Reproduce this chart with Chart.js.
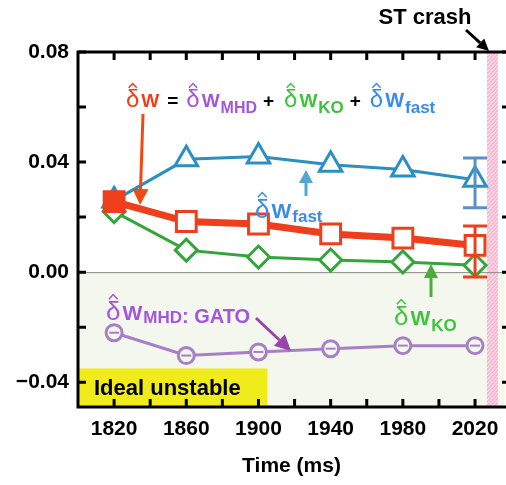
<!DOCTYPE html>
<html>
<head>
<meta charset="utf-8">
<script src="https://cdn.jsdelivr.net/npm/chart.js@4.4.1/dist/chart.umd.min.js"></script>
<style>html,body{margin:0;padding:0;background:#fff}</style>
</head>
<body>
<canvas id="c" width="506" height="485"></canvas>
<script>
// time points (ms)
const times = [1820, 1860, 1900, 1940, 1980, 2020];
// normalized delta W terms
const dwTotal = [0.0256, 0.0184, 0.0175, 0.0139, 0.0124, 0.0097];
const dwFast  = [0.026, 0.041, 0.042, 0.039, 0.0373, 0.0336];
const dwKO    = [0.022, 0.008, 0.0055, 0.0044, 0.0037, 0.0025];
const dwMHD   = [-0.022, -0.0303, -0.029, -0.0278, -0.0267, -0.0267];
// error bars on the last point [low, high]
const fastErr  = [0.0234, 0.0415];
const totalErr = [-0.0018, 0.0168];
// axis ranges / marked regions
const xRange = [1800, 2036.6];
const yRange = [-0.049, 0.08];
const crashBand = [2026.6, 2032.7];
const unstableBox = { x: [1800, 1905], y: [-0.049, -0.035] };

const FONT = "'Liberation Sans', Arial, sans-serif";

const RED = '#ef3e1b', BLUE = '#2a8fc2', GREEN = '#33a63a', PURPLE = '#a77fc6';

function pts(ys) {
    return times.map((t, i) => ({ x: t, y: ys[i] }));
}

// draws  δ^W_sub  and returns the x where it ends
function hatTerm(ctx, x, y, color, dSize, wSize, sub, subSize, subDrop) {
    ctx.fillStyle = color;
    ctx.strokeStyle = color;
    ctx.textBaseline = 'alphabetic';
    ctx.textAlign = 'left';
    ctx.font = dSize + 'px ' + FONT;
    ctx.fillText('δ', x, y);
    const dw = ctx.measureText('δ').width;
    const cx = x + dw / 2;
    ctx.lineWidth = 1.5;
    ctx.beginPath();
    ctx.moveTo(cx - dSize * 0.17, y - dSize * 0.8);
    ctx.lineTo(cx, y - dSize * 0.98);
    ctx.lineTo(cx + dSize * 0.17, y - dSize * 0.8);
    ctx.stroke();
    let px = x + dw + 2;
    ctx.font = 'bold ' + wSize + 'px ' + FONT;
    ctx.fillText('W', px, y);
    px += ctx.measureText('W').width + 1;
    if (sub) {
        ctx.font = 'bold ' + subSize + 'px ' + FONT;
        ctx.fillText(sub, px, y + subDrop);
        px += ctx.measureText(sub).width;
    }
    return px;
}

function arrow(ctx, x1, y1, x2, y2, color, lw, head, hw) {
    const a = Math.atan2(y2 - y1, x2 - x1);
    const bx = x2 - Math.cos(a) * head, by = y2 - Math.sin(a) * head;
    ctx.strokeStyle = color;
    ctx.fillStyle = color;
    ctx.lineWidth = lw;
    ctx.beginPath();
    ctx.moveTo(x1, y1);
    ctx.lineTo(bx, by);
    ctx.stroke();
    ctx.beginPath();
    ctx.moveTo(x2, y2);
    ctx.lineTo(bx + Math.sin(a) * hw, by - Math.cos(a) * hw);
    ctx.lineTo(bx - Math.sin(a) * hw, by + Math.cos(a) * hw);
    ctx.closePath();
    ctx.fill();
}

const backdrop = {
    id: 'backdrop',
    beforeDatasetsDraw(chart) {
        const { ctx, chartArea: a, scales: { x, y } } = chart;
        const y0 = y.getPixelForValue(0);
        ctx.save();
        ctx.fillStyle = '#f4f7ed';
        ctx.fillRect(a.left, y0, a.right - a.left, a.bottom - y0);

        // ideal unstable box
        const bx1 = x.getPixelForValue(unstableBox.x[0]), bx2 = x.getPixelForValue(unstableBox.x[1]);
        const by1 = y.getPixelForValue(unstableBox.y[1]), by2 = y.getPixelForValue(unstableBox.y[0]);
        ctx.fillStyle = '#f0ec1c';
        ctx.fillRect(bx1, by1, bx2 - bx1, by2 - by1);
        ctx.fillStyle = '#000';
        ctx.font = 'bold 22px ' + FONT;
        ctx.textBaseline = 'middle';
        ctx.fillText('Ideal unstable', bx1 + 16, (by1 + by2) / 2 + 1);

        // ST crash band (hatched pink)
        const cx1 = x.getPixelForValue(crashBand[0]), cx2 = x.getPixelForValue(crashBand[1]);
        ctx.fillStyle = '#f7bad3';
        ctx.fillRect(cx1, a.top, cx2 - cx1, a.bottom - a.top);
        ctx.beginPath();
        ctx.rect(cx1, a.top, cx2 - cx1, a.bottom - a.top);
        ctx.clip();
        ctx.strokeStyle = 'rgba(255,255,255,0.7)';
        ctx.lineWidth = 1;
        for (let k = a.top - 20; k < a.bottom + 20; k += 4) {
            ctx.beginPath();
            ctx.moveTo(cx1, k + 12);
            ctx.lineTo(cx2, k);
            ctx.stroke();
        }
        ctx.restore();

        ctx.save();
        ctx.strokeStyle = '#8a8a8a';
        ctx.lineWidth = 1;
        ctx.beginPath();
        ctx.moveTo(a.left, y0 + 0.5);
        ctx.lineTo(a.right, y0 + 0.5);
        ctx.stroke();
        ctx.restore();
    },
    afterDatasetsDraw(chart) {
        const { ctx, chartArea: a, scales: { x, y } } = chart;
        ctx.save();

        // error bars at the last time
        const ex = x.getPixelForValue(times[times.length - 1]);
        [[fastErr, '#5d8fc6'], [totalErr, RED]].forEach(([e, col]) => {
            const t = y.getPixelForValue(e[1]), b = y.getPixelForValue(e[0]);
            ctx.strokeStyle = col;
            ctx.lineWidth = 3;
            ctx.beginPath();
            ctx.moveTo(ex, t); ctx.lineTo(ex, b);
            ctx.moveTo(ex - 12, t); ctx.lineTo(ex + 12, t);
            ctx.moveTo(ex - 12, b); ctx.lineTo(ex + 12, b);
            ctx.stroke();
        });

        // frame
        ctx.strokeStyle = '#000';
        ctx.lineWidth = 3;
        ctx.beginPath();
        ctx.moveTo(a.right + 2, a.top);
        ctx.lineTo(a.left, a.top);
        ctx.lineTo(a.left, a.bottom);
        ctx.lineTo(a.right + 2, a.bottom);
        ctx.stroke();

        // inward ticks
        ctx.lineWidth = 3;
        ctx.beginPath();
        x.ticks.forEach(tk => {
            const px = x.getPixelForValue(tk.value);
            if (px <= a.left + 2) return;
            ctx.moveTo(px, a.top); ctx.lineTo(px, a.top + 8);
            ctx.moveTo(px, a.bottom); ctx.lineTo(px, a.bottom - 8);
        });
        y.ticks.forEach(tk => {
            const py = y.getPixelForValue(tk.value);
            ctx.moveTo(a.left, py); ctx.lineTo(a.left + 8, py);
            ctx.moveTo(a.right - 3, py); ctx.lineTo(a.right + 2, py);
        });
        ctx.stroke();

        // formula
        let px = hatTerm(ctx, 126, 107, RED, 24, 19, null);
        ctx.fillStyle = '#000';
        ctx.font = 'bold 19px ' + FONT;
        ctx.fillText('=', px + 7, 107);
        px = hatTerm(ctx, px + 26, 107, '#a355e0', 24, 19, 'MHD', 16, 6);
        ctx.fillStyle = '#000';
        ctx.font = 'bold 19px ' + FONT;
        ctx.fillText('+', px + 6, 107);
        px = hatTerm(ctx, px + 27, 107, '#3fc23f', 24, 19, 'KO', 17, 6);
        ctx.fillStyle = '#000';
        ctx.font = 'bold 19px ' + FONT;
        ctx.fillText('+', px + 6, 107);
        hatTerm(ctx, px + 26, 107, '#3a8ce8', 24, 20, 'fast', 17, 6);

        // labels next to curves
        hatTerm(ctx, 255, 218, '#3a8ce8', 26, 21, 'fast', 17, 4);
        hatTerm(ctx, 394, 325, '#3fc23f', 26, 21, 'KO', 17, 6);
        px = hatTerm(ctx, 106, 320, '#a355e0', 26, 21, 'MHD', 17, 3);
        ctx.font = 'bold 20px ' + FONT;
        ctx.fillText(': GATO', px, 323);

        // arrows
        arrow(ctx, 143, 114, 140, 205, '#f04a12', 3, 16, 8);
        arrow(ctx, 306, 196, 306, 170, '#4fa8d0', 3, 13, 7);
        arrow(ctx, 431, 297, 431, 264, '#4aac3a', 3, 14, 7);
        arrow(ctx, 256, 318, 291, 351, '#9944aa', 3, 16, 8);
        arrow(ctx, 466, 30, 489, 51, '#000', 3, 12, 6);

        ctx.fillStyle = '#000';
        ctx.font = 'bold 22px ' + FONT;
        ctx.textBaseline = 'middle';
        ctx.textAlign = 'center';
        ctx.fillText('ST crash', 425, 18);
        ctx.restore();
    }
};

const markerFill = '#ffffff';

new Chart(document.getElementById('c'), {
    type: 'line',
    data: {
        // first dataset is painted on top
        datasets: [
            {
                label: 'dW total',
                data: pts(dwTotal),
                borderColor: RED, borderWidth: 7,
                pointStyle: 'rect', pointRadius: 14,
                pointBorderWidth: 3,
                pointBackgroundColor: times.map((t, i) => i === 0 ? RED : markerFill),
                pointBorderColor: RED
            },
            {
                label: 'dW fast',
                data: pts(dwFast),
                borderColor: BLUE, borderWidth: 3,
                pointStyle: 'triangle', pointRadius: 13,
                pointBorderWidth: 3, pointBackgroundColor: markerFill, pointBorderColor: BLUE
            },
            {
                label: 'dW KO',
                data: pts(dwKO),
                borderColor: GREEN, borderWidth: 3,
                pointStyle: 'rectRot', pointRadius: 11,
                pointBorderWidth: 3, pointBackgroundColor: markerFill, pointBorderColor: GREEN
            },
            {
                label: 'mhd dash',
                data: pts(dwMHD),
                showLine: false,
                pointStyle: 'line', pointRadius: 5,
                pointBorderWidth: 2, pointBorderColor: PURPLE
            },
            {
                label: 'dW MHD (GATO)',
                data: pts(dwMHD),
                borderColor: PURPLE, borderWidth: 3,
                pointStyle: 'circle', pointRadius: 8,
                pointBorderWidth: 3, pointBackgroundColor: '#f4f7ed', pointBorderColor: PURPLE
            }
        ]
    },
    options: {
        responsive: false,
        animation: false,
        clip: false,
        layout: { autoPadding: false, padding: { top: 52, right: 1, left: 0, bottom: 0 } },
        plugins: { legend: { display: false }, tooltip: { enabled: false } },
        scales: {
            x: {
                type: 'linear',
                min: xRange[0], max: xRange[1],
                afterFit(s) { s.height = 78; s.paddingLeft = 0; s.paddingRight = 0; },
                grid: { display: false, drawTicks: false },
                border: { display: false },
                ticks: {
                    stepSize: 20, includeBounds: false, padding: 10,
                    autoSkip: false, maxRotation: 0,
                    color: '#000',
                    font: { family: FONT, size: 21, weight: 'bold' },
                    callback: v => (v % 40 === 20 ? String(v) : '')
                },
                title: {
                    display: true, text: 'Time (ms)', color: '#000',
                    font: { family: FONT, size: 21, weight: 'bold' },
                    padding: { top: 0, bottom: 6 }
                }
            },
            y: {
                min: yRange[0], max: yRange[1],
                afterFit(s) { s.width = 78; s.paddingTop = 0; s.paddingBottom = 0; },
                grid: { display: false, drawTicks: false },
                border: { display: false },
                ticks: {
                    stepSize: 0.02, includeBounds: false, padding: 9,
                    autoSkip: false, color: '#000',
                    font: { family: FONT, size: 21, weight: 'bold' },
                    callback: v => {
                        const r = Math.round(v * 100);
                        if (r % 4 !== 0) return '';
                        return (r < 0 ? '\u2212' : '') + Math.abs(r / 100).toFixed(2);
                    }
                }
            }
        }
    },
    plugins: [backdrop]
});
</script>
</body>
</html>
